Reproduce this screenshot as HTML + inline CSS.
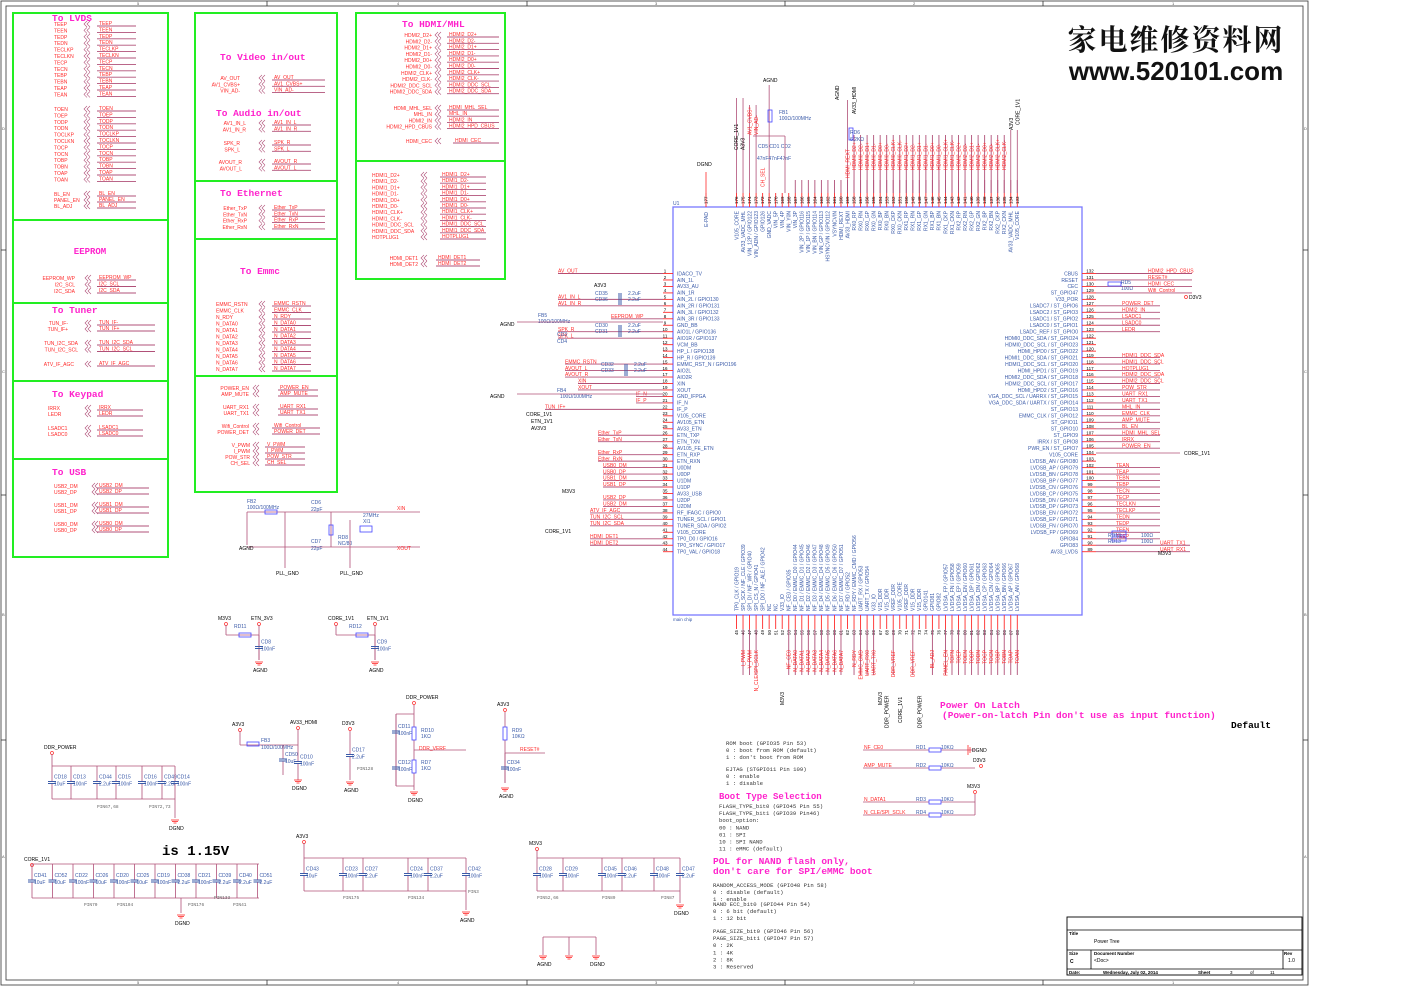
<!DOCTYPE html>
<html><head><meta charset="utf-8"><style>
html,body{margin:0;padding:0;background:#fff;}
svg{display:block;}
text{font-family:"Liberation Sans",sans-serif;}
.m{font-family:"Liberation Mono",monospace;}
</style></head><body>
<svg id="s" xmlns="http://www.w3.org/2000/svg" width="1404" height="992" viewBox="0 0 1404 992">
<rect width="1404" height="992" fill="#fff"/>
</svg>
<script>
(function(){
const svg=document.getElementById('s');let H='';
const R='#ff2a2a',W='#b05078',B='#3a5aa8',BL='#7878ff',G='#22ee22',M='#ff22cc';
function L(x1,y1,x2,y2,c,w){H+=`<line x1="${x1}" y1="${y1}" x2="${x2}" y2="${y2}" stroke="${c||W}" stroke-width="${w||0.8}"/>`;}
function T(x,y,s,c,sz,o){o=o||{};H+=`<text x="${x}" y="${y}" fill="${c||'#000'}" font-size="${sz||5.5}"${o.a?` text-anchor="${o.a}"`:''}${o.r?` transform="rotate(${o.r} ${x} ${y})"`:''}${o.cl?` class="${o.cl}"`:''}${o.b?' font-weight="bold"':''}${o.st?` style="${o.st}"`:''}>${s}</text>`;}
function Rc(x,y,w,h,c,sw,f){H+=`<rect x="${x}" y="${y}" width="${w}" height="${h}" fill="${f||'none'}" stroke="${c}" stroke-width="${sw||1}"/>`;}
function chev(x,y,dir){const d=dir||-1;H+=`<polyline points="${x},${y-3} ${x+3*d},${y} ${x},${y+3}" fill="none" stroke="${W}" stroke-width="0.6"/><polyline points="${x+3},${y-3} ${x+3+3*d},${y} ${x+3},${y+3}" fill="none" stroke="${W}" stroke-width="0.6"/>`;}
function title(x,y,s){T(x,y,s,M,9.5,{cl:'m',b:1});}
function bus(xl,xc,xr,xe,y0,dy,names,anch,rn){names.forEach((n,i)=>{const y=y0+i*dy;T(xl,y,n,R,5,{a:anch});chev(xc,y-2);T(xr,y-1,rn?rn[i]:n,R,5);L(xr-2,y,xe,y,W,0.9);});}
// frame
Rc(1,1,1307,984,'#333',0.8);Rc(6,6,1297,974,'#333',0.8);
[267,527,785,1043].forEach(x=>{L(x,1,x,6,'#333');L(x,980,x,985,'#333');});
[['5',137],['4',397],['3',655],['2',913],['1',1172]].forEach(a=>{T(a[1],5,a[0],'#555',4);T(a[1],984,a[0],'#555',4);});
[['D',130],['C',373],['B',616],['A',858]].forEach(a=>{T(2,a[1],a[0],'#555',4);T(1304,a[1],a[0],'#555',4);});
[250,495,740].forEach(y=>{L(1,y,6,y,'#333');L(1303,y,1308,y,'#333');});
// logo
T(1176,50,'家电维修资料网','#111',29,{a:'middle',b:1,st:"font-family:'Liberation Serif','Noto Serif CJK SC',serif;letter-spacing:2px"});
T(1176,80,'www.520101.com','#111',26,{a:'middle',b:1});
// green boxes
function gb(x,y,w,h){Rc(x,y,w,h,G,2);}
gb(13,13,155,207);gb(13,220,155,83);gb(13,303,155,78);gb(13,381,155,78);gb(13,459,155,98);
gb(195,13,142,168);gb(195,181,142,58);gb(195,239,142,137);gb(195,376,142,116);
gb(356,13,149,148);gb(356,161,149,118);
// LVDS
title(52,21,'To LVDS');
const lv1=['TEEP','TEEN','TEDP','TEDN','TECLKP','TECLKN','TECP','TECN','TEBP','TEBN','TEAP','TEAN'];
const lv2=['TOEN','TOEP','TODP','TODN','TOCLKP','TOCLKN','TOCP','TOCN','TOBP','TOBN','TOAP','TOAN'];
bus(54,87,99,136,26,6.4,lv1);bus(54,87,99,136,111,6.4,lv2);
bus(54,87,99,136,196,6,['BL_EN','PANEL_EN','BL_ADJ']);
T(90,254,'EEPROM',M,9,{a:'middle',cl:'m',b:1});
bus(75,88,99,136,280,6.5,['EEPROM_WP','I2C_SCL','I2C_SDA'],'end');
title(52,313,'To Tuner');
bus(68,88,99,155,325,6,['TUN_IF-','TUN_IF+'],'end');
bus(78,88,99,155,345,6.5,['TUN_I2C_SDA','TUN_I2C_SCL'],'end');
bus(74,88,99,155,366,6,['ATV_IF_AGC'],'end');
title(52,397,'To Keypad');
bus(48,88,99,143,410,6,['IRRX','LEDR']);bus(48,88,99,143,430,6,['LSADC1','LSADC0']);
title(52,475,'To USB');
bus(54,95,99,149,488,6,['USB2_DM','USB2_DP']);bus(54,95,99,149,507,6,['USB1_DM','USB1_DP']);bus(54,95,99,149,526,6,['USB0_DM','USB0_DP']);
// box B
title(220,60,'To Video in/out');
bus(240,262,274,325,80,6.3,['AV_OUT','AV1_CVBS+','VIN_AD-'],'end');
title(216,116,'To Audio in/out');
bus(246,262,274,311,125,6.3,['AV1_IN_L','AV1_IN_R'],'end');
bus(240,262,274,311,145,6.3,['SPK_R','SPK_L'],'end');
bus(242,262,274,311,164,6.3,['AVOUT_R','AVOUT_L'],'end');
title(220,196,'To Ethernet');
bus(247,262,274,325,210,6.3,['Ether_TxP','Ether_TxN','Ether_RxP','Ether_RxN'],'end');
title(240,274,'To Emmc');
bus(216,262,274,311,306,6.5,['EMMC_RSTN','EMMC_CLK','N_RDY','N_DATA0','N_DATA1','N_DATA2','N_DATA3','N_DATA4','N_DATA5','N_DATA6','N_DATA7']);
bus(249,256,280,318,390,6,['POWER_EN','AMP_MUTE'],'end');
bus(249,256,280,318,409,6,['UART_RX1','UART_TX1'],'end');
bus(249,256,274,320,428,6,['Wifi_Control','POWER_DET'],'end');
bus(250,256,267,305,447,6,['V_PWM','I_PWM','POW_STR','CH_SEL'],'end');
// box C
title(402,27,'To HDMI/MHL');
bus(432,438,449,499,37,6.3,['HDMI2_D2+','HDMI2_D2-','HDMI2_D1+','HDMI2_D1-','HDMI2_D0+','HDMI2_D0-','HDMI2_CLK+','HDMI2_CLK-','HDMI2_DDC_SCL','HDMI2_DDC_SDA'],'end');
bus(432,438,449,499,110,6.2,['HDMI_MHL_SEL','MHL_IN','HDMI2_IN','HDMI2_HPD_CBUS'],'end');
bus(432,438,455,499,143,6,['HDMI_CEC'],'end');
bus(372,424,442,486,177,6.2,['HDMI1_D2+','HDMI1_D2-','HDMI1_D1+','HDMI1_D1-','HDMI1_D0+','HDMI1_D0-','HDMI1_CLK+','HDMI1_CLK-','HDMI1_DDC_SCL','HDMI1_DDC_SDA','HOTPLUG1']);
bus(418,424,438,480,260,6,['HDMI_DET1','HDMI_DET2'],'end');
// chip
const cx1=673,cx2=1082,cy1=207,cy2=615,py0=273.5,pd=6.47,px0=736.5,pxd=6.53;
Rc(cx1,cy1,cx2-cx1,cy2-cy1,BL,1.3);T(673,205,'U1',B,5);T(673,621,'main chip',B,4.5);
const leftP=['IDACO_TV','AIN_1L','AV33_AU','AIN_1R','AIN_2L / GPIO130','AIN_2R / GPIO131','AIN_3L / GPIO132','AIN_3R / GPIO133','GND_BB','AIO1L / GPIO136','AIO1R / GPIO137','VCM_BB','HP_L / GPIO138','HP_R / GPIO139','EMMC_RST_N / GPIO196','AIO2L','AIO2R','XIN','XOUT','GND_IFPGA','IF_N','IF_P','V105_CORE','AV105_ETN','AV33_ETN','ETN_TXP','ETN_TXN','AV105_FE_ETN','ETN_RXP','ETN_RXN','U0DM','U0DP','U1DM','U1DP','AV33_USB','U2DP','U2DM','RF_IFAGC / GPIO0','TUNER_SCL / GPIO1','TUNER_SDA / GPIO2','V105_CORE','TP0_D0 / GPIO16','TP0_SYNC / GPIO17','TP0_VAL / GPIO18'];
const rightP=['CBUS','RESET','CEC','ST_GPIO47','V33_POR','LSADC7 / ST_GPIO6','LSADC2 / ST_GPIO3','LSADC1 / ST_GPIO2','LSADC0 / ST_GPIO1','LSADC_REF / ST_GPIO0','HDMI0_DDC_SDA / ST_GPIO24','HDMI0_DDC_SCL / ST_GPIO23','HDMI_HPD0 / ST_GPIO22','HDMI1_DDC_SDA / ST_GPIO21','HDMI1_DDC_SCL / ST_GPIO20','HDMI_HPD1 / ST_GPIO19','HDMI2_DDC_SDA / ST_GPIO18','HDMI2_DDC_SCL / ST_GPIO17','HDMI_HPD2 / ST_GPIO16','VGA_DDC_SCL / UARRX / ST_GPIO15','VGA_DDC_SDA / UARTX / ST_GPIO14','ST_GPIO13','EMMC_CLK / ST_GPIO12','ST_GPIO11','ST_GPIO10','ST_GPIO9','IRRX / ST_GPIO8','PWR_EN / ST_GPIO7','V105_CORE','LVDSB_AN / GPIO80','LVDSB_AP / GPIO79','LVDSB_BN / GPIO78','LVDSB_BP / GPIO77','LVDSB_CN / GPIO76','LVDSB_CP / GPIO75','LVDSB_DN / GPIO74','LVDSB_DP / GPIO73','LVDSB_EN / GPIO72','LVDSB_EP / GPIO71','LVDSB_FN / GPIO70','LVDSB_FP / GPIO69','GPIO84','GPIO83','AV33_LVDS'];
const topP=['V105_CORE','AV33_VADC_MHL','VIN_12P / GPIO122','VIN_ADN / GPIO123','GPIO126','GND_VADC','VIN_5P','VIN_4P','VIN_Y0N','VIN_3P','VIN_2P / GPIO116','VIN_1P / GPIO115','VIN_BN / GPIO114','VIN_GP / GPIO113','HSYNCVIN / GPIO112','VSYNCVIN','HDMI_REXT','AV33_HDMI','RX0_RP','RX0_RN','RX0_GP','RX0_GN','RX0_BP','RX0_BN','RX0_CKP','RX0_CKN','RX1_RP','RX1_RN','RX1_GP','RX1_GN','RX1_BP','RX1_BN','RX1_CKP','RX1_CKN','RX2_RP','RX2_RN','RX2_GP','RX2_GN','RX2_BP','RX2_BN','RX2_CKP','RX2_CKN','AV33_VADC_MHL','V105_CORE'];
const botP=['TP0_CLK / GPIO19','SPI_SCK / NF_CLE / GPIO39','SPI_DI / NF_WR / GPIO40','SPI_CS_N / GPIO41','SPI_DO / NF_ALE / GPIO42','NC','NC','V33_IO','NF_CE0 / GPIO35'];
for(let i=0;i<8;i++)botP.push(`NF_D${i} / EMMC_D${i} / GPIO${44+i}`);
botP.push('NF_RD / GPIO52','NF_RDY / EMMC_CMD / GPIO56','UART_RX / GPIO53','UART_TX / GPIO54','V33_IO','V15_DDR','V15_DDR','VREF_DDR','V105_CORE','VREF_DDR','V15_DDR','V15_DDR','GPIO141','GPIO81','GPIO82');
['FP','FN','EP','EN','DP','DN','CP','CN','BP','BN','AP','AN'].forEach((s,i)=>botP.push(`LVDSA_${s} / GPIO${57+i}`));
leftP.forEach((n,i)=>{const y=py0+i*pd;L(663,y,cx1,y,R,0.9);T(665,y-0.8,i+1,'#000',4.5,{a:'middle'});T(677,y+1.8,n,B,5);});
rightP.forEach((n,i)=>{const y=py0+i*pd;L(cx2,y,1096,y,R,0.9);T(1090,y-0.8,132-i,'#000',4.5,{a:'middle'});T(1078,y+1.8,n,B,5,{a:'end'});});
topP.forEach((n,i)=>{const x=px0+i*pxd;L(x,193,x,cy1,R,0.9);T(x+1.6,204,176-i,'#000',4.5,{r:-90});T(x+1.8,211,n,B,5,{r:-90,a:'end'});});
L(706,193,706,cy1,R,0.9);T(707.6,204,'177','#000',4.5,{r:-90});T(708,212,'E-PAD',B,5,{r:-90,a:'end'});
botP.forEach((n,i)=>{const x=px0+i*pxd;L(x,cy2,x,629,R,0.9);T(x+1.6,630,45+i,'#000',4.5,{r:-90,a:'end'});T(x+1.8,611,n,B,5,{r:-90});});
// left external wires
const lext={1:'AV_OUT',5:'AV1_IN_L',6:'AV1_IN_R',8:'EEPROM_WP',10:'SPK_R',11:'SPK_L',15:'EMMC_RSTN',16:'AVOUT_L',17:'AVOUT_R',18:'XIN',19:'XOUT',20:'IF_N',21:'IF_P',22:'TUN_IF+',26:'Ether_TxP',27:'Ether_TxN',29:'Ether_RxP',30:'Ether_RxN',31:'USB0_DM',32:'USB0_DP',33:'USB1_DM',34:'USB1_DP',36:'USB2_DP',37:'USB2_DM',38:'ATV_IF_AGC',39:'TUN_I2C_SCL',40:'TUN_I2C_SDA',42:'HDMI_DET1',43:'HDMI_DET2'};
const lx={1:558,5:558,6:558,8:611,10:558,11:558,15:565,16:565,17:565,18:578,19:578,20:636,21:636,22:545};
for(const k in lext){const y=py0+(k-1)*pd;const x=lx[k]||(k>=26&&k<=30?598:(k>=31&&k<=37?603:590));L(x,y,663,y,W,0.9);T(x,y-0.8,lext[k],R,5);}
[[595,296,'CD35','2.2uF'],[595,302,'CD36','2.2uF'],[595,328,'CD30','2.2uF'],[595,334,'CD31','2.2uF'],[601,367,'CD32','2.2uF'],[601,373,'CD33','2.2uF']].forEach(c=>{T(c[0],c[1]-1,c[2],B,5);T(c[0]+33,c[1]-1,c[3],B,5);L(c[0]+24,c[1]-3,c[0]+24,c[1]+3,B,1);L(c[0]+26,c[1]-3,c[0]+26,c[1]+3,B,1);});
T(594,287,'A3V3','#000',5);T(557,336,'CD3',B,5);T(557,343,'CD4',B,5);T(538,317,'FB5',B,5);T(538,323,'100Ω/100MHz',B,5);
T(500,326,'AGND','#000',5);T(490,398,'AGND','#000',5);T(557,392,'FB4',B,5);T(560,398,'100Ω/100MHz',B,5);
T(526,416,'CORE_1V1','#000',5);T(531,423,'ETN_1V1','#000',5);T(531,430,'AV3V3','#000',5);T(562,493,'M3V3','#000',5);T(545,533,'CORE_1V1','#000',5);
L(517,322,663,322,W);L(517,394,663,394,W);
// right external
const rext={132:'HDMI2_HPD_CBUS',131:'RESET#',130:'HDMI_CEC',129:'Wifi_Control',127:'POWER_DET',126:'HDMI2_IN',125:'LSADC1',124:'LSADC0',123:'LEDR',119:'HDMI1_DDC_SDA',118:'HDMI1_DDC_SCL',117:'HOTPLUG1',116:'HDMI2_DDC_SDA',115:'HDMI2_DDC_SCL',114:'POW_STR',113:'UART_RX1',112:'UART_TX1',111:'MHL_IN',110:'EMMC_CLK',109:'AMP_MUTE',108:'BL_EN',107:'HDMI_MHL_SEL',106:'IRRX',105:'POWER_EN',102:'TEAN',101:'TEAP',100:'TEBN',99:'TEBP',98:'TECN',97:'TECP',96:'TECLKN',95:'TECLKP',94:'TEDN',93:'TEDP',92:'TEEN',91:'TEEP',90:'UART_TX1',89:'UART_RX1'};
for(const k in rext){const i=132-k,y=py0+i*pd;const x=k>=129?1148:(k>=105?1122:(k>=91?1116:1160));const xe=k>=129?1192:(k>=91?1160:1190);L(1096,y,xe,y,W,0.9);T(x,y-0.8,rext[k],R,5);}
Rc(1108,282,13,4,'#4444ff',0.8);T(1121,284,'RD5',B,5);T(1121,290,'100Ω',B,5);T(1189,299,'D3V3','#000',5);
H+=`<circle cx="1186" cy="297" r="1.5" fill="none" stroke="${R}" stroke-width="0.7"/>`;
L(1096,453,1180,453,W);T(1184,455,'CORE_1V1','#000',5);T(1158,555,'M3V3','#000',5);
Rc(1112,531,14,4,'#4444ff',0.8);Rc(1112,537,14,4,'#4444ff',0.8);T(1108,537,'RD13',B,5);T(1108,543,'RD13',B,5);T(1141,537,'100Ω',B,5);T(1141,543,'100Ω',B,5);
// top external
const texts={158:'HDMI0_D2+',157:'HDMI0_D2-',156:'HDMI0_D1+',155:'HDMI0_D1-',154:'HDMI0_D0+',153:'HDMI0_D0-',152:'HDMI0_CLK+',151:'HDMI0_CLK-',150:'HDMI1_D2+',149:'HDMI1_D2-',148:'HDMI1_D1+',147:'HDMI1_D1-',146:'HDMI1_D0+',145:'HDMI1_D0-',144:'HDMI1_CLK+',143:'HDMI1_CLK-',142:'HDMI2_D2+',141:'HDMI2_D2-',140:'HDMI2_D1+',139:'HDMI2_D1-',138:'HDMI2_D0+',137:'HDMI2_D0-',136:'HDMI2_CLK+',135:'HDMI2_CLK-'};
const tx=k=>px0+(176-k)*pxd;
for(let k=167;k>=133;k--){L(tx(k),180,tx(k),193,W,0.9);}
for(const k in texts){L(tx(k),135,tx(k),193,W,0.9);T(tx(k)+1.8,170,texts[k],R,5,{r:-90});}
L(tx(176),98,tx(176),193,W);L(tx(175),98,tx(175),193,W);T(tx(176)+1.5,150,'CORE_1V1','#000',5,{r:-90});T(tx(175)+1.5,150,'A3V3','#000',5,{r:-90});
L(tx(174),105,tx(174),193,W);L(tx(173),105,tx(173),193,W);T(tx(174)+2,135,'AV1_CVBS+',R,5,{r:-90});T(tx(173)+2,135,'VIN_AD-',R,5,{r:-90});
T(tx(172)+2,187,'CH_SEL',R,5,{r:-90});L(tx(171),85,tx(171),193,W);Rc(768,110,4,12,'#4444ff',0.8);T(779,114,'FB1',B,5);T(779,120,'100Ω/100MHz',B,5);T(763,82,'AGND','#000',5);
T(758,148,'CD5 CD1 CD2',B,5);T(757,160,'47nF47nF47nF',B,5);L(753,136,785,136,W);L(785,136,785,193,W);
L(tx(159),100,tx(159),193,W);T(tx(159)+2,178,'HDMI_REXT',R,5,{r:-90});Rc(849,128,4,12,'#4444ff',0.8);T(850,134,'RD6',B,5);T(850,141,'6.2KΩ',B,5);
T(tx(158)+2,114,'AV33_HDMI','#000',5,{r:-90});T(tx(160)-2,100,'AGND','#000',5,{r:-90});T(697,166,'DGND','#000',5);L(706,172,706,193,R);
T(tx(134)+2,130,'A3V3','#000',5,{r:-90});T(tx(133)+2,125,'CORE_1V1','#000',5,{r:-90});L(tx(134),130,tx(134),193,W);L(tx(133),130,tx(133),193,W);
// bottom external labels
const bext={46:'I_PWM',47:'V_PWM',48:'N_CLE/SPI_SCLK',53:'NF_CE0',54:'N_DATA0',55:'N_DATA1',56:'N_DATA2',57:'N_DATA3',58:'N_DATA4',59:'N_DATA5',60:'N_DATA6',61:'N_DATA7',63:'N_RDY',64:'EMMC_CMD',65:'UART_RX0',66:'UART_TX0',69:'DDR_VREF',72:'DDR_VREF',75:'BL_ADJ'};
['PANEL_EN','TOFN','TOEP','TOEN','TODP','TODN','TOCP','TOCN','TOBP','TOBN','TOAP','TOAN'].forEach((s,i)=>bext[77+i]=s);
for(const k in bext){const x=px0+(k-45)*pxd;L(x,629,x,675,W,0.9);T(x+1.8,650,bext[k],R,5,{r:-90,a:'end'});}
T(px0+(52-45)*pxd+2,705,'M3V3','#000',5,{r:-90});T(px0+(67-45)*pxd+2,705,'M3V3','#000',5,{r:-90});
T(px0+(68-45)*pxd+2,728,'DDR_POWER','#000',5,{r:-90});T(px0+(70-45)*pxd+2,723,'CORE_1V1','#000',5,{r:-90});T(px0+(73-45)*pxd+2,728,'DDR_POWER','#000',5,{r:-90});
// crystal
T(247,503,'FB2',B,5);T(247,509,'100Ω/100MHz',B,5);L(247,512,420,512,W);L(247,547,420,547,W);L(247,512,247,545,W);Rc(265,510,12,4,'#4444ff',0.8);
T(311,504,'CD6',B,5);T(311,511,'22pF',B,5);T(311,543,'CD7',B,5);T(311,550,'22pF',B,5);T(338,539,'RD8',B,5);T(338,545,'NC/80',B,5);T(363,517,'27MHz',B,5);T(363,523,'XI1',B,5);
T(397,510,'XIN',R,5);T(397,550,'XOUT',R,5);T(239,550,'AGND','#000',5);T(276,575,'PLL_GND','#000',5);T(340,575,'PLL_GND','#000',5);
L(331,512,331,547,W);Rc(329,525,4,10,'#4444ff',0.8);L(285,512,285,568,W);L(350,520,350,568,W);Rc(360,526,12,6,'#4444ff',0.8);
function pw(x,y,s){H+=`<circle cx="${x}" cy="${y}" r="1.5" fill="none" stroke="${R}" stroke-width="0.7"/>`;T(x-8,y-4,s,'#000',5);}
function gnd(x,y,s){L(x-4,y,x+4,y,R);L(x-3,y+1.5,x+3,y+1.5,R);L(x-1.5,y+3,x+1.5,y+3,R);if(s)T(x-6,y+10,s,'#000',5);}
function cap(x,y1,y2,lab,val){const m=(y1+y2)/2;L(x,y1,x,m-1,W);L(x,m+1,x,y2,W);L(x-4,m-1,x+4,m-1,B,1);L(x-4,m+1,x+4,m+1,B,1);if(lab)T(x+2,m-4,lab,B,5);if(val)T(x+2,m+3,val,B,5);}
pw(226,624,'M3V3');pw(259,624,'ETN_3V3');L(226,625,226,635,W);L(226,635,259,635,W);Rc(239,633,12,4,'#4444ff',0.8);T(234,628,'RD11',B,5);L(259,625,259,660,W);cap(259,635,660,'CD8','100nF');gnd(259,662,'AGND');
pw(336,624,'CORE_1V1');pw(375,624,'ETN_1V1');L(336,625,336,635,W);L(336,635,375,635,W);Rc(356,633,12,4,'#4444ff',0.8);T(349,628,'RD12',B,5);L(375,625,375,660,W);cap(375,635,660,'CD9','100nF');gnd(375,662,'AGND');
pw(52,753,'DDR_POWER');L(52,754,52,766,W);L(52,766,175,766,W);L(52,799,175,799,W);[52,71,97,116,142,162,175].forEach((x,i)=>cap(x,766,799,['CD18','CD13','CD44','CD15','CD16','CD49','CD14'][i],['10uF','100nF','2.2uF','100nF','100nF','2.2uF','100nF'][i]));
T(97,808,'PIN67,68','#666',4.5,{cl:'m'});T(149,808,'PIN72,73','#666',4.5,{cl:'m'});L(175,799,175,818,W);gnd(175,820,'DGND');
T(162,855,'is 1.15V','#000',14,{cl:'m',b:1});
pw(32,865,'CORE_1V1');L(32,864,259,864,W);L(32,898,259,898,W);
const cl=['CD41','CD52','CD22','CD26','CD20','CD25','CD19','CD38','CD21','CD39','CD40','CD51'],cv=['10uF','10uF','100nF','10uF','100nF','10uF','100nF','2.2uF','100nF','2.2uF','2.2uF','2.2uF'];
cl.forEach((c,i)=>cap(32+i*20.5,864,898,c,cv[i]));L(181,898,181,913,W);gnd(181,915,'DGND');
T(84,906,'PIN70','#666',4.5,{cl:'m'});T(117,906,'PIN104','#666',4.5,{cl:'m'});T(188,906,'PIN176','#666',4.5,{cl:'m'});T(233,906,'PIN41','#666',4.5,{cl:'m'});T(214,899,'PIN133','#666',4.5,{cl:'m'});
pw(304,842,'A3V3');L(304,843,304,858,W);L(304,858,466,858,W);L(304,891,466,891,W);[304,343,363,408,428,466].forEach((x,i)=>cap(x,858,891,['CD43','CD23','CD27','CD24','CD37','CD42'][i],['10uF','100nF','2.2uF','100nF','2.2uF','100nF'][i]));
T(343,899,'PIN175','#666',4.5,{cl:'m'});T(408,899,'PIN134','#666',4.5,{cl:'m'});T(468,893,'PIN3','#666',4.5,{cl:'m'});L(466,891,466,910,W);gnd(466,912,'AGND');
pw(537,849,'M3V3');L(537,850,537,858,W);L(537,858,680,858,W);L(537,891,680,891,W);[537,563,602,622,654,680].forEach((x,i)=>cap(x,858,891,['CD28','CD29','CD45','CD46','CD48','CD47'][i],['100nF','100nF','100nF','2.2uF','100nF','2.2uF'][i]));
T(537,899,'PIN52,66','#666',4.5,{cl:'m'});T(602,899,'PIN89','#666',4.5,{cl:'m'});T(661,899,'PIN87','#666',4.5,{cl:'m'});L(680,891,680,903,W);gnd(680,905,'DGND');
L(543,937,596,937,W);L(543,937,543,955,W);L(569,937,569,955,W);L(596,937,596,955,W);gnd(543,956,'AGND');gnd(569,956);gnd(596,956,'DGND');
pw(240,730,'A3V3');L(240,731,240,745,W);L(240,745,298,745,W);Rc(247,742,12,4,'#4444ff',0.8);T(261,742,'FB3',B,5);T(261,749,'100Ω/100MHz',B,5);pw(298,728,'AV33_HDMI');L(298,729,298,745,W);cap(298,745,780,'CD10','100nF');cap(283,745,775,'CD50','10uF');gnd(298,780,'DGND');
pw(350,729,'D3V3');cap(350,731,780,'CD17','2.2uF');T(357,770,'PIN128','#666',4.5,{cl:'m'});gnd(350,782,'AGND');
pw(414,703,'DDR_POWER');L(396,714,414,714,W);L(396,714,396,786,W);L(396,786,414,786,W);L(414,705,414,790,W);Rc(412,727,4,13,'#4444ff',0.8,'#fff');Rc(412,760,4,13,'#4444ff',0.8,'#fff');T(421,732,'RD10',B,5);T(421,738,'1KΩ',B,5);T(421,764,'RD7',B,5);T(421,770,'1KΩ',B,5);cap(396,714,750,'CD11','100nF');cap(396,750,786,'CD12','100nF');L(414,750,466,750,W);T(419,750,'DDR_VERF',R,5);gnd(414,792,'DGND');
pw(505,710,'A3V3');L(505,712,505,783,W);Rc(503,727,4,13,'#4444ff',0.8,'#fff');T(512,732,'RD9',B,5);T(512,738,'10KΩ',B,5);L(505,753,545,753,W);T(520,751,'RESET#',R,5);cap(505,753,783,'CD34','100nF');gnd(505,788,'AGND');
// notes
const note=(x,y,arr)=>arr.forEach((s,i)=>T(x,y+i*7.1,s,'#333',5.6,{cl:'m'}));
note(726,745,['ROM boot (GPIO35 Pin 53)','0 : boot from ROM (default)','1 : don\'t boot from ROM']);
note(726,771,['EJTAG (STGPIO11 Pin 109)','0 : enable','1 : disable']);
T(719,799,'Boot Type Selection',M,9,{cl:'m',b:1});
note(719,808,['FLASH_TYPE_bit0 (GPIO45  Pin 55)','FLASH_TYPE_bit1 (GPIO39 Pin46)','boot_option:','00 : NAND','01 : SPI','10 : SPI NAND','11 : eMMC (default)']);
T(713,864,'POL for NAND flash only,',M,9.5,{cl:'m',b:1});T(713,874,'don\'t care for SPI/eMMC boot',M,9.5,{cl:'m',b:1});
note(713,887,['RANDOM_ACCESS_MODE (GPIO48 Pin 58)','0 : disable (default)','1 : enable']);note(713,906,['NAND ECC_bit0  (GPIO44 Pin 54)','0 : 6 bit (default)','1 : 12 bit']);
note(713,933,['PAGE_SIZE_bit0   (GPIO46 Pin 56)','PAGE_SIZE_bit1   (GPIO47 Pin 57)','0 : 2K','1 : 4K','2 : 8K','3 : Reserved']);
T(940,708,'Power On Latch',M,9.5,{cl:'m',b:1});T(942,718,'(Power-on-latch Pin don\'t use as input function)',M,9.5,{cl:'m',b:1});T(1231,728,'Default','#000',9.5,{cl:'m',b:1});
[[750,'NF_CE0','RD1'],[768,'AMP_MUTE','RD2'],[802,'N_DATA1','RD3'],[815,'N_CLE/SPI_SCLK','RD4']].forEach(r=>{L(863,r[0],975,r[0],W);T(864,r[0]-1,r[1],R,5);T(916,r[0]-1,r[2],B,5);Rc(929,r[0]-2,12,4,'#4444ff',0.8,'#fff');T(941,r[0]-1,'10KΩ',B,5);});
L(968,745,968,755,R);L(970,747,970,753,R);T(972,752,'DGND','#000',5);pw(981,766,'D3V3');pw(975,792,'M3V3');L(975,794,975,815,W);
// title block
Rc(1067,917,235,58,'#000',0.9);L(1067,930,1302,930,'#000');L(1067,950,1302,950,'#000');L(1067,969,1302,969,'#000');L(1091,950,1091,969,'#000');L(1283,950,1283,969,'#000');
T(1069,935,'Title','#000',4.5,{b:1});T(1094,943,'Power Tree','#000',5);T(1069,955,'Size','#000',4.5,{b:1});T(1070,963,'C','#000',5,{b:1});T(1094,955,'Document Number','#000',4.5,{b:1});T(1094,962,'&lt;Doc&gt;','#000',5);
T(1284,955,'Rev','#000',4.5,{b:1});T(1288,962,'1.0','#000',5);T(1069,974,'Date:','#000',4.5,{b:1});T(1103,974,'Wednesday, July 02, 2014','#000',4.5,{b:1});T(1198,974,'Sheet','#000',4.5,{b:1});T(1230,974,'3','#000',4.5);T(1250,974,'of','#000',4.5);T(1270,974,'11','#000',4.5);
svg.insertAdjacentHTML('beforeend',H);
})();
</script>
</body></html>
